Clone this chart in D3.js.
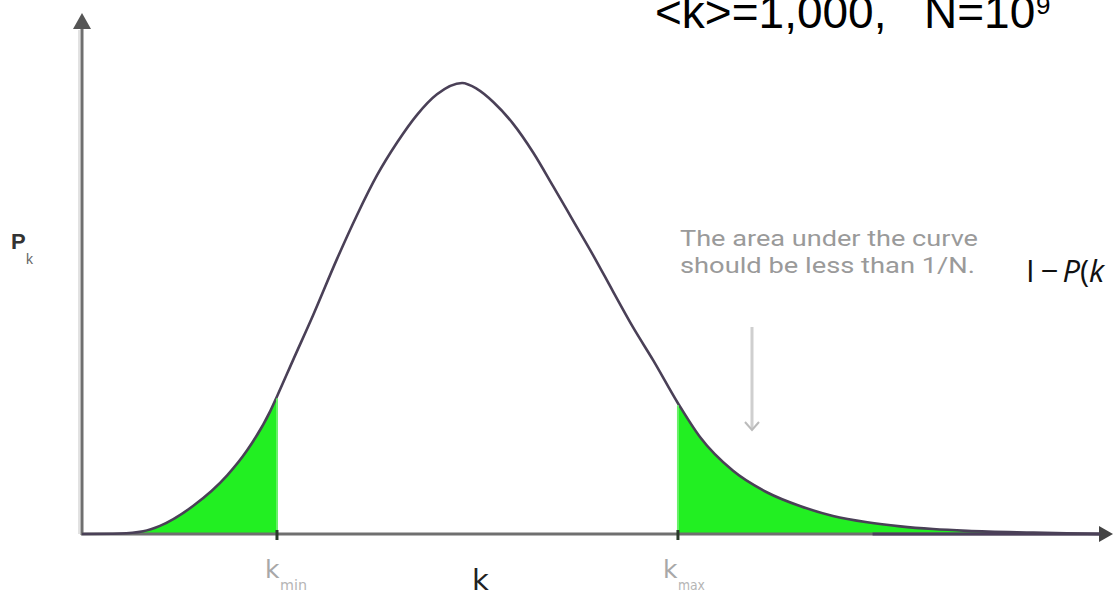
<!DOCTYPE html>
<html>
<head>
<meta charset="utf-8">
<script src="https://cdn.jsdelivr.net/npm/d3@7"></script>
<style>
  html, body { margin: 0; padding: 0; background: #fff; overflow: hidden; }
  svg { display: block; }
</style>
</head>
<body>
<svg id="chart" width="1114" height="595"></svg>
<script>
// ---- data ----
const kValues = [0, 100, 161, 205, 292, 382, 434, 495, 513, 555, 608, 671, 724, 776, 829, 882, 934, 1000,
                 1039, 1082, 1134, 1187, 1239, 1292, 1345, 1397, 1450, 1503, 1568, 1626, 1713, 1803, 1889,
                 1976, 2066, 2153, 2239, 2329, 2503, 2679];
const pValues = [0, 0.001, 0.006, 0.018, 0.062, 0.130, 0.185, 0.272, 0.305, 0.385, 0.485, 0.610, 0.708, 0.795,
                 0.868, 0.930, 0.975, 1.0, 0.987, 0.958, 0.910, 0.846, 0.772, 0.695, 0.618, 0.538, 0.458,
                 0.385, 0.290, 0.215, 0.140, 0.092, 0.062, 0.040, 0.026, 0.017, 0.011, 0.007, 0.003, 0];
const kMin = 513;
const kMax = 1568;
const titleParts = ["<k>=1,000,", "N=10", "9"];
const noteLines = ["The area under the curve", "should be less than 1/N."];

const svg = d3.select("#chart");
const x = d3.scaleLinear().domain([0, 2710]).range([82, 1112]);
const y = d3.scaleLinear().domain([0, 1]).range([534, 83]);

const pts = kValues.map((k, i) => ({ k, p: pValues[i] }));
const curve = d3.curveMonotoneX;

// green tails
const area = d3.area().x(d => x(d.k)).y0(y(0)).y1(d => y(d.p)).curve(curve);
svg.append("path").datum(pts.filter(d => d.k <= kMin))
  .attr("d", area).attr("fill", "#22ef22").attr("stroke", "none");
svg.append("path").datum(pts.filter(d => d.k >= kMax))
  .attr("d", area).attr("fill", "#22ef22").attr("stroke", "none");

// axes
const axisColor = "#6f6f6f";
svg.append("line").attr("x1", x(0) - 3).attr("x2", x(0) - 3).attr("y1", 30).attr("y2", y(0))
  .attr("stroke", "#e2e2e2").attr("stroke-width", 2);
svg.append("line").attr("x1", x(0)).attr("x2", x(0)).attr("y1", 26).attr("y2", y(0) + 1)
  .attr("stroke", axisColor).attr("stroke-width", 3);
svg.append("path")
  .attr("d", `M${x(0)},13 L${x(0) - 9},29 L${x(0) + 9},29 Z`)
  .attr("fill", "#555");
svg.append("line").attr("x1", x(0) - 1).attr("x2", 1102).attr("y1", y(0)).attr("y2", y(0))
  .attr("stroke", axisColor).attr("stroke-width", 3);
svg.append("line").attr("x1", x(2080)).attr("x2", 1102).attr("y1", y(0)).attr("y2", y(0))
  .attr("stroke", "#4d3f5c").attr("stroke-width", 3);
svg.append("path")
  .attr("d", `M1113,${y(0)} L1099,${y(0) - 8} L1099,${y(0) + 8} Z`)
  .attr("fill", "#444");

// curve
const line = d3.line().x(d => x(d.k)).y(d => y(d.p)).curve(curve);
svg.append("path").datum(pts).attr("d", line)
  .attr("fill", "none").attr("stroke", "#4a4057").attr("stroke-width", 2.6);

// green vertical edges and ticks
[kMin, kMax].forEach(k => {
  const p = pValues[kValues.indexOf(k)];
  svg.append("line").attr("x1", x(k)).attr("x2", x(k)).attr("y1", y(p) + 2).attr("y2", y(0))
    .attr("stroke", "#6af06a").attr("stroke-width", 2);
  svg.append("line").attr("x1", x(k)).attr("x2", x(k)).attr("y1", y(0) - 4).attr("y2", y(0) + 6)
    .attr("stroke", "#2a3a2a").attr("stroke-width", 3);
});

// labels
svg.append("text").attr("x", 11).attr("y", 249).attr("font-family", "Liberation Sans, Arial, sans-serif")
  .attr("font-size", 22).attr("font-weight", "bold").attr("fill", "#333").text("P");
svg.append("text").attr("x", 26).attr("y", 264).attr("font-family", "Liberation Sans, Arial, sans-serif")
  .attr("font-size", 14).attr("fill", "#666").text("k");

svg.append("text").attr("x", 472).attr("y", 590).attr("font-family", "DejaVu Sans, sans-serif")
  .attr("font-size", 29).attr("fill", "#222").text("k");

function subLabel(xp, sub) {
  svg.append("text").attr("x", xp).attr("y", 578).attr("font-family", "DejaVu Sans, sans-serif")
    .attr("font-size", 25).attr("fill", "#a8a8a8").text("k");
  svg.append("text").attr("x", xp + 15).attr("y", 590).attr("font-family", "Liberation Sans Narrow, DejaVu Sans, sans-serif")
    .attr("font-size", 14).attr("fill", "#b5b5b5").attr("textLength", 27).attr("lengthAdjust", "spacingAndGlyphs").text(sub);
}
subLabel(x(kMin) - 12, "min");
subLabel(x(kMax) - 15, "max");

// annotation
noteLines.forEach((t, i) => {
  svg.append("text").attr("x", 680).attr("y", 246 + i * 27)
    .attr("font-family", "Liberation Sans Narrow, Roboto, sans-serif")
    .attr("font-size", 22).attr("fill", "#9a9a9a")
    .attr("textLength", i === 0 ? 298 : 295).attr("lengthAdjust", "spacingAndGlyphs").text(t);
});
svg.append("line").attr("x1", 752).attr("x2", 752).attr("y1", 327).attr("y2", 428)
  .attr("stroke", "#cfcfcf").attr("stroke-width", 3);
svg.append("path").attr("d", "M745,422 L752,430 L759,422")
  .attr("fill", "none").attr("stroke", "#bbbbbb").attr("stroke-width", 2);

// formula at right
const f = svg.append("text").attr("x", 1026).attr("y", 282)
  .attr("font-family", "Open Sans, Lato, sans-serif").attr("font-size", 31).attr("fill", "#111");
f.append("tspan").text("I");
f.append("tspan").attr("dx", 6).text("\u2212");
f.append("tspan").attr("dx", 4).attr("font-style", "italic").text("P");
f.append("tspan").text("(");
f.append("tspan").attr("font-style", "italic").text("k");

// title
const tt = svg.append("text").attr("y", 28).attr("font-family", "Liberation Sans, Arial, sans-serif")
  .attr("font-size", 46).attr("fill", "#000");
tt.append("tspan").attr("x", 655).text(titleParts[0]);
tt.append("tspan").attr("x", 924).text(titleParts[1]);
svg.append("text").attr("x", 1036).attr("y", 14).attr("font-family", "Liberation Sans, Arial, sans-serif")
  .attr("font-size", 26).attr("fill", "#000").text(titleParts[2]);
</script>
</body>
</html>
